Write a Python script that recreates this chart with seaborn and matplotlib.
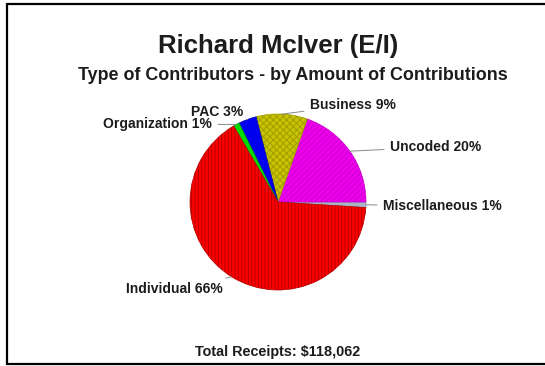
import numpy as np
import matplotlib
matplotlib.use("Agg")
import matplotlib.pyplot as plt
from matplotlib.lines import Line2D
import seaborn as sns

# ── Data ──────────────────────────────────────────────────────────────────────
categories = ["Miscellaneous", "Uncoded", "Business", "PAC", "Organization", "Individual"]
shares     = [1.0, 19.6, 9.4, 3.3, 1.1, 65.6]
pct_labels = ["1%", "20%", "9%", "3%", "1%", "66%"]
colors     = ["#a8b4c4", "#ee00ee", "#c8c400", "#0000ee", "#00dd00", "#ff0000"]
hatch_cols = ["#8090a0", "#c800c8", "#a09c00", "#0000aa", "#00a000", "#b00000"]
hatches    = [None, "//////", "xxxxx", None, None, "|||||"]

title    = "Richard McIver (E/I)"
subtitle = "Type of Contributors - by Amount of Contributions"
footer   = "Total Receipts: $118,062"

# label text position (px) for each slice, same order as categories
label_pos = [(383, 206), (390, 147), (310, 105), (243, 112), (212, 124), (223, 289)]
label_ha  = ["left", "left", "left", "right", "right", "right"]

# ── Style ─────────────────────────────────────────────────────────────────────
sns.set_theme(style="white")
plt.rcParams["font.family"] = ["Liberation Sans", "DejaVu Sans"]
plt.rcParams["hatch.linewidth"] = 0.7
TXT = "#1c1c1c"

W, H, DPI = 545, 366, 100
CX, CY, R = 278, 202, 88   # pie centre / radius in pixels

fig = plt.figure(figsize=(W / DPI, H / DPI), dpi=DPI)
fig.patch.set_facecolor("white")

box = 110
ax = fig.add_axes([(CX - box) / W, (H - CY - box) / H, 2 * box / W, 2 * box / H])

wedges, _ = ax.pie(shares, colors=colors, startangle=-3.6, counterclock=True,
                   wedgeprops=dict(linewidth=0.5))
for w, hc, ht in zip(wedges, hatch_cols, hatches):
    w.set_edgecolor(hc)
    if ht:
        w.set_hatch(ht)

lim = box / R
ax.set_xlim(-lim, lim)
ax.set_ylim(-lim, lim)
ax.set_aspect("auto")
ax.axis("off")

def px2data(px, py):
    return (px - CX) / R, (CY - py) / R

# slice labels with short leader lines
for w, cat, pct, (px, py), ha in zip(wedges, categories, pct_labels, label_pos, label_ha):
    mid = np.deg2rad((w.theta1 + w.theta2) / 2)
    edge = (np.cos(mid), np.sin(mid))
    tx, ty = px2data(px, py)
    ax.annotate(f"{cat} {pct}", xy=edge, xytext=(tx, ty),
                ha=ha, va="center", fontsize=10, fontweight="bold", color=TXT,
                arrowprops=dict(arrowstyle="-", color="#888888", lw=0.7,
                                shrinkA=2, shrinkB=0))

# titles / footer
fig.text(CX / W, 1 - 46 / H, title, ha="center", va="center",
         fontsize=18.5, fontweight="bold", color=TXT)
fig.text(293 / W, 1 - 75 / H, subtitle, ha="center", va="center",
         fontsize=12.9, fontweight="bold", color=TXT)
fig.text(CX / W, 1 - 352 / H, footer, ha="center", va="center",
         fontsize=10.4, fontweight="bold", color=TXT)

# frame: left, top and bottom edges
for xs, ys in [([7, 7], [4, 364]), ([7, 545], [4, 4]), ([7, 545], [364, 364])]:
    fig.add_artist(Line2D([x / W for x in xs], [1 - y / H for y in ys],
                          color="black", lw=1.6, transform=fig.transFigure))

fig.savefig("out.png", dpi=DPI)
